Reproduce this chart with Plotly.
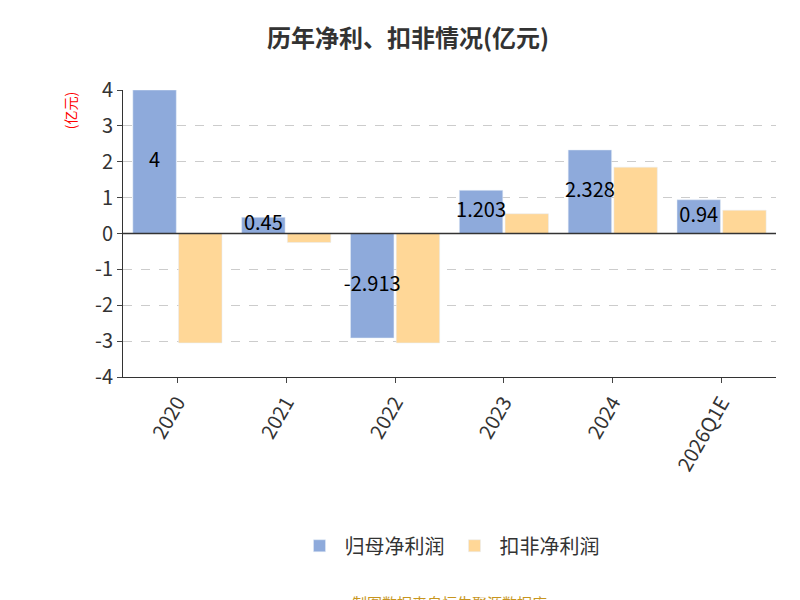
import plotly.graph_objects as go

years = ["2020", "2021", "2022", "2023", "2024", "2026Q1E"]
net_profit = [4, 0.45, -2.913, 1.203, 2.328, 0.94]
deducted = [-3.05, -0.25, -3.05, 0.55, 1.85, 0.65]
net_labels = ["4", "0.45", "-2.913", "1.203", "2.328", "0.94"]
y_ticks = [-4, -3, -2, -1, 0, 1, 2, 3, 4]

fig = go.Figure()
fig.add_bar(x=years, y=net_profit, name="归母净利润", marker_color="#8eaadb")
fig.add_bar(x=years, y=deducted, name="扣非净利润", marker_color="#ffd797")
# value labels centred on the blue bars
fig.add_scatter(x=[i - 0.21 for i in range(len(years))], y=[v / 2 for v in net_profit],
                text=net_labels, mode="text", textfont=dict(size=20, color="black"),
                showlegend=False, xaxis="x2", cliponaxis=False, hoverinfo="skip")

fig.update_layout(
    width=800, height=600, plot_bgcolor="white", paper_bgcolor="white",
    font=dict(family="Noto Sans CJK SC", color="#333"),
    title=dict(text="<b>历年净利、扣非情况(亿元)</b>", x=0.5, y=0.963, font=dict(size=24)),
    margin=dict(l=115, r=32, t=82, b=231),
    bargap=0.16, bargroupgap=0.05,
    xaxis=dict(tickangle=-60, tickfont=dict(size=20), showline=True, linecolor="#333",
               ticks="outside", range=[-0.5, 5.5]),
    xaxis2=dict(overlaying="x", visible=False, range=[-0.5, 5.5]),
    yaxis=dict(range=[-4, 4], tickvals=y_ticks, ticktext=[str(v) for v in y_ticks],
               tickfont=dict(size=20), showline=True,
               linecolor="#333", ticks="outside", gridcolor="#ccc", griddash="dash",
               zeroline=False),
    legend=dict(orientation="h", x=0.5, xanchor="center", y=-0.52, yanchor="top",
                font=dict(size=20), itemwidth=40),
    annotations=[
        dict(text="(亿元)", textangle=-90, x=-0.1, y=1.0, xref="paper", yref="paper",
             showarrow=False, font=dict(size=14, color="red"), yanchor="top"),
        dict(text="制图数据来自恒生聚源数据库", x=0.5, y=-0.83, xref="paper", yref="paper",
             showarrow=False, font=dict(size=15, color="#c8961e")),
    ],
)
fig.add_shape(type="line", xref="paper", yref="y", x0=0, x1=1, y0=0, y1=0,
              line=dict(color="#333", width=1.5))
fig.write_html("out.html")
